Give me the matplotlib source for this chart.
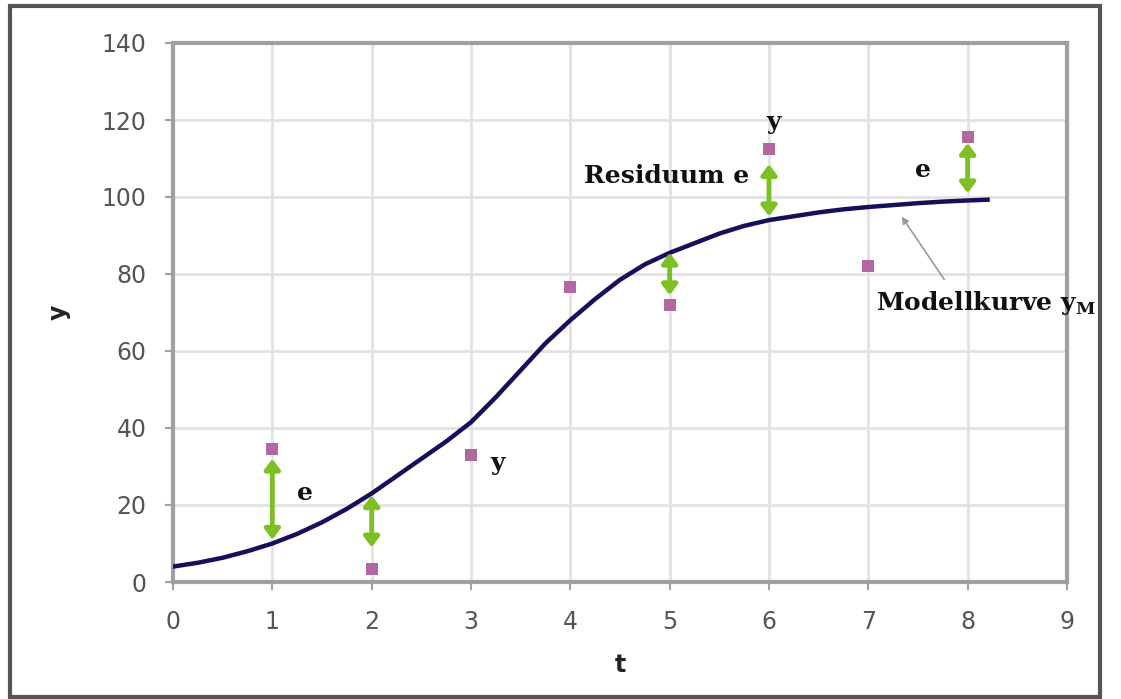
import matplotlib
matplotlib.use("Agg")
import matplotlib.pyplot as plt
from matplotlib.patches import Rectangle

# Observed data points
t_obs = [1, 2, 3, 4, 5, 6, 7, 8]
y_obs = [34.5, 3.5, 33, 76.5, 72, 112.5, 82, 115.5]

# Model curve
t_curve = [0, 0.25, 0.5, 0.75, 1, 1.25, 1.5, 1.75, 2, 2.25, 2.5, 2.75, 3, 3.25, 3.5,
           3.75, 4, 4.25, 4.5, 4.75, 5, 5.25, 5.5, 5.75, 6, 6.25, 6.5, 6.75, 7,
           7.25, 7.5, 7.75, 8, 8.2]
y_curve = [4.0, 5.0, 6.3, 8.0, 10.0, 12.5, 15.5, 19.0, 23.0, 27.5, 32.0, 36.5, 41.5, 48.0, 55.0,
           62.0, 68.0, 73.5, 78.5, 82.5, 85.5, 88.0, 90.5, 92.5, 94.0, 95.0, 96.0, 96.8, 97.4,
           97.9, 98.4, 98.8, 99.1, 99.3]

# Residual arrows (double headed)
t_res = [1, 2, 5, 6, 8]
res_low = [11, 9, 74.5, 95, 101]
res_high = [32, 22.5, 85.5, 108.5, 114]

# Axis ticks
x_ticks = [0, 1, 2, 3, 4, 5, 6, 7, 8, 9]
y_ticks = [0, 20, 40, 60, 80, 100, 120, 140]

W, H = 1121, 699
fig = plt.figure(figsize=(W / 100, H / 100), dpi=100)
ax = fig.add_axes([173 / W, 1 - 582 / H, (1067 - 173) / W, (582 - 43) / H])

ax.set_xlim(0, 9)
ax.set_ylim(0, 140)
ax.set_xticks(x_ticks)
ax.set_yticks(y_ticks)
ax.grid(True, color="#e2e2e2", linewidth=2)
ax.set_axisbelow(True)
for s in ax.spines.values():
    s.set_color("#a0a0a0")
    s.set_linewidth(3)
ax.tick_params(axis="both", colors="#a0a0a0", length=6, width=1.5,
               labelcolor="#555555", labelsize=17)
ax.tick_params(axis="x", pad=14)
ax.tick_params(axis="y", pad=13)
for lab in ax.get_xticklabels() + ax.get_yticklabels():
    lab.set_family("DejaVu Sans")

ax.set_xlabel("t", fontsize=17, fontweight="bold", family="DejaVu Sans",
              color="#222222", labelpad=14)
ax.set_ylabel("y", fontsize=17, fontweight="bold", family="DejaVu Sans",
              color="#222222", labelpad=22)

# Model curve
ax.plot(t_curve, y_curve, color="#14105a", linewidth=3.2, zorder=3)

# Data points
ax.scatter(t_obs, y_obs, marker="s", s=75, color="#b2679e", zorder=4, linewidths=0)

# Residual arrows
green = "#7cc023"
for tr, lo, hi in zip(t_res, res_low, res_high):
    ax.annotate("", xy=(tr, hi), xytext=(tr, lo),
                arrowprops=dict(arrowstyle="<|-|>,head_length=0.6,head_width=0.45",
                                color=green, lw=3.5, shrinkA=0, shrinkB=0),
                zorder=5)

# Annotations
tf = dict(family="DejaVu Serif", fontweight="bold", fontsize=18, color="#111111")
ax.text(1.25, 23, "e", ha="left", va="center", **tf)
ax.text(3.2, 31, "y", ha="left", va="center", **tf)
ax.text(5.8, 105.5, "Residuum e", ha="right", va="center", **tf)
ax.text(6.05, 119.5, "y", ha="center", va="center", **tf)
ax.text(7.55, 107, "e", ha="center", va="center", **tf)
ax.text(7.08, 72.5, "Modellkurve y$_{\\mathregular{M}}$", ha="left", va="center",
        clip_on=False, **tf)
ax.annotate("", xy=(7.32, 95.5), xytext=(7.78, 78),
            arrowprops=dict(arrowstyle="-|>,head_length=0.4,head_width=0.2",
                            color="#999999", lw=1.2))

# Outer frame
fig.patches.append(Rectangle((10 / W, 1 - 697 / H), (1100 - 10) / W, (697 - 6) / H,
                             transform=fig.transFigure, fill=False,
                             edgecolor="#555555", linewidth=3, zorder=10))

fig.savefig("out.png", dpi=100)
